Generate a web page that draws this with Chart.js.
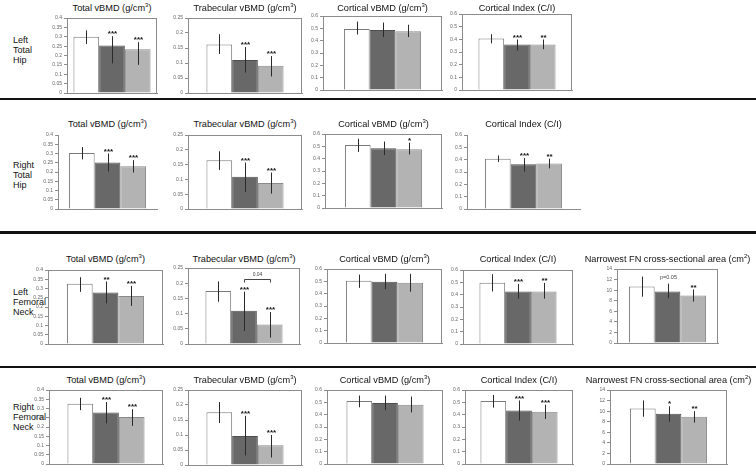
<!DOCTYPE html>
<html>
<head>
<meta charset="utf-8">
<script src="https://cdn.jsdelivr.net/npm/chart.js@4.4.0/dist/chart.umd.min.js"></script>
<style>
body{margin:0;background:#fff;width:756px;height:471px;position:relative;overflow:hidden;font-family:"Liberation Sans",Arial,sans-serif}
.ttl{position:absolute;width:260px;text-align:center;font-size:9.2px;line-height:11px;color:#111;white-space:nowrap}
.ttl sup{font-size:6px;line-height:0;vertical-align:4px}
.rowlab{position:absolute;left:13px;font-size:9px;line-height:10px;color:#111}
.sep{position:absolute;left:0;width:756px;background:#111}
canvas{position:absolute}
</style>
</head>
<body>
<div class="rowlab" style="top:35px">Left<br>Total<br>Hip</div>
<div class="rowlab" style="top:160px">Right<br>Total<br>Hip</div>
<div class="rowlab" style="top:287px">Left<br>Femoral<br>Neck</div>
<div class="rowlab" style="top:402px">Right<br>Femoral<br>Neck</div>
<div class="sep" style="top:98px;height:2px"></div>
<div class="sep" style="top:231px;height:3px"></div>
<div class="sep" style="top:366px;height:2px"></div>
<script>
// bar order in every panel: white, dark grey, light grey
const groups = ['Group 1', 'Group 2', 'Group 3'];

// Left total hip
const lthTotal = [0.300, 0.253, 0.233];
const lthTotalErr = [[0.334, 0.262], [0.303, 0.158], [0.271, 0.150]];
const lthTotalSig = ['', '***', '***'];
const lthTrab = [0.162, 0.110, 0.091];
const lthTrabErr = [[0.196, 0.130], [0.153, 0.068], [0.123, 0.055]];
const lthTrabSig = ['', '***', '***'];
const lthCort = [0.495, 0.487, 0.476];
const lthCortErr = [[0.555, 0.450], [0.547, 0.429], [0.529, 0.429]];
const lthCortSig = ['', '', ''];
const lthCI = [0.407, 0.360, 0.360];
const lthCIErr = [[0.440, 0.368], [0.399, 0.312], [0.399, 0.322]];
const lthCISig = ['', '***', '**'];

// Right total hip
const rthTotal = [0.303, 0.252, 0.231];
const rthTotalErr = [[0.335, 0.268], [0.300, 0.203], [0.264, 0.197]];
const rthTotalSig = ['', '***', '***'];
const rthTrab = [0.165, 0.109, 0.088];
const rthTrabErr = [[0.195, 0.132], [0.157, 0.057], [0.123, 0.052]];
const rthTrabSig = ['', '***', '***'];
const rthCort = [0.510, 0.484, 0.476];
const rthCortErr = [[0.561, 0.455], [0.539, 0.429], [0.529, 0.434]];
const rthCortSig = ['', '', '*'];
const rthCI = [0.408, 0.363, 0.368];
const rthCIErr = [[0.434, 0.382], [0.413, 0.303], [0.408, 0.329]];
const rthCISig = ['', '***', '**'];

// Left femoral neck
const lfnTotal = [0.326, 0.278, 0.259];
const lfnTotalErr = [[0.361, 0.282], [0.338, 0.220], [0.314, 0.206]];
const lfnTotalSig = ['', '**', '***'];
const lfnTrab = [0.174, 0.109, 0.064];
const lfnTrabErr = [[0.206, 0.139], [0.172, 0.043], [0.105, 0.021]];
const lfnTrabSig = ['', '***', '***'];
const lfnTrabBracket = {from: 1, to: 2, value: 0.213, label: '0.04'};
const lfnCort = [0.505, 0.497, 0.489];
const lfnCortErr = [[0.555, 0.447], [0.561, 0.437], [0.561, 0.416]];
const lfnCortSig = ['', '', ''];
const lfnCI = [0.497, 0.426, 0.426];
const lfnCIErr = [[0.566, 0.426], [0.487, 0.368], [0.495, 0.368]];
const lfnCISig = ['', '***', '**'];
const lfnArea = [10.67, 9.75, 9.00];
const lfnAreaErr = [[12.58, 8.76], [11.23, 8.45], [10.12, 7.83]];
const lfnAreaSig = ['', 'p=0.05', '**'];

// Right femoral neck
const rfnTotal = [0.326, 0.278, 0.254];
const rfnTotalErr = [[0.358, 0.291], [0.335, 0.220], [0.296, 0.206]];
const rfnTotalSig = ['', '***', '***'];
const rfnTrab = [0.176, 0.097, 0.066];
const rfnTrabErr = [[0.210, 0.140], [0.164, 0.032], [0.100, 0.025]];
const rfnTrabSig = ['', '***', '***'];
const rfnCort = [0.510, 0.495, 0.480];
const rfnCortErr = [[0.555, 0.460], [0.555, 0.436], [0.547, 0.418]];
const rfnCortSig = ['', '', ''];
const rfnCI = [0.510, 0.434, 0.423];
const rfnCIErr = [[0.560, 0.457], [0.515, 0.352], [0.481, 0.365]];
const rfnCISig = ['', '***', '***'];
const rfnArea = [10.49, 9.50, 8.95];
const rfnAreaErr = [[12.03, 8.94], [10.92, 8.02], [10.00, 7.83]];
const rfnAreaSig = ['', '*', '**'];

const tTotal = 'Total vBMD (g/cm<sup>3</sup>)';
const tTrab = 'Trabecular vBMD (g/cm<sup>3</sup>)';
const tCort = 'Cortical vBMD (g/cm<sup>3</sup>)';
const tCI = 'Cortical Index (C/I)';
const tArea = 'Narrowest FN cross-sectional area (cm<sup>2</sup>)';

const titleY = [8.5, 124.5, 259, 380];

const panels = [
  {row: 0, title: tTotal, mean: lthTotal, err: lthTotalErr, sig: lthTotalSig, max: 0.4, step: 0.05, L: 67, T: 17, R: 157, B: 94, box: true},
  {row: 0, title: tTrab, mean: lthTrab, err: lthTrabErr, sig: lthTrabSig, max: 0.25, step: 0.05, L: 188, T: 17, R: 302, B: 94, box: true},
  {row: 0, title: tCort, mean: lthCort, err: lthCortErr, sig: lthCortSig, max: 0.6, step: 0.1, L: 323, T: 15, R: 442, B: 91, box: true},
  {row: 0, title: tCI, mean: lthCI, err: lthCIErr, sig: lthCISig, max: 0.6, step: 0.1, L: 462, T: 13, R: 572, B: 91, box: true},

  {row: 1, title: tTotal, mean: rthTotal, err: rthTotalErr, sig: rthTotalSig, max: 0.4, step: 0.05, L: 58, T: 134, R: 157, B: 210, box: false},
  {row: 1, title: tTrab, mean: rthTrab, err: rthTrabErr, sig: rthTrabSig, max: 0.25, step: 0.05, L: 188, T: 134, R: 302, B: 210, box: true},
  {row: 1, title: tCort, mean: rthCort, err: rthCortErr, sig: rthCortSig, max: 0.6, step: 0.1, L: 325, T: 133, R: 442, B: 209, box: true},
  {row: 1, title: tCI, mean: rthCI, err: rthCIErr, sig: rthCISig, max: 0.6, step: 0.1, L: 467, T: 134, R: 580, B: 210, box: false},

  {row: 2, title: tTotal, mean: lfnTotal, err: lfnTotalErr, sig: lfnTotalSig, max: 0.4, step: 0.05, L: 48, T: 269, R: 163, B: 345, box: true},
  {row: 2, title: tTrab, mean: lfnTrab, err: lfnTrabErr, sig: lfnTrabSig, max: 0.25, step: 0.05, L: 188, T: 267, R: 300, B: 345, box: true, bracket: lfnTrabBracket},
  {row: 2, title: tCort, mean: lfnCort, err: lfnCortErr, sig: lfnCortSig, max: 0.6, step: 0.1, L: 327, T: 268, R: 442, B: 344, box: true},
  {row: 2, title: tCI, mean: lfnCI, err: lfnCIErr, sig: lfnCISig, max: 0.6, step: 0.1, L: 463, T: 269, R: 573, B: 345, box: true},
  {row: 2, title: tArea, mean: lfnArea, err: lfnAreaErr, sig: lfnAreaSig, max: 14, step: 2, L: 617, T: 268, R: 718, B: 344, box: true},

  {row: 3, title: tTotal, mean: rfnTotal, err: rfnTotalErr, sig: rfnTotalSig, max: 0.4, step: 0.05, L: 49, T: 389, R: 163, B: 465, box: true},
  {row: 3, title: tTrab, mean: rfnTrab, err: rfnTrabErr, sig: rfnTrabSig, max: 0.25, step: 0.05, L: 188, T: 389, R: 302, B: 466, box: true},
  {row: 3, title: tCort, mean: rfnCort, err: rfnCortErr, sig: rfnCortSig, max: 0.6, step: 0.1, L: 327, T: 389, R: 443, B: 465, box: true},
  {row: 3, title: tCI, mean: rfnCI, err: rfnCIErr, sig: rfnCISig, max: 0.6, step: 0.1, L: 465, T: 389, R: 573, B: 465, box: true},
  {row: 3, title: tArea, mean: rfnArea, err: rfnAreaErr, sig: rfnAreaSig, max: 14, step: 2, L: 610, T: 389, R: 727, B: 465, box: true}
];

const fills = ['#ffffff', '#686868', '#b3b3b3'];
const edges = ['#7a7a7a', '#4f4f4f', '#8a8a8a'];
const YW = 22;   // fixed y axis width
const BARW = 25.7;

// frame, error bars, stars and the bracket
const marks = {
  id: 'marks',
  afterDatasetsDraw(chart, args, o) {
    const ctx = chart.ctx, a = chart.chartArea, y = chart.scales.y;
    ctx.save();
    if (o.box) {
      ctx.strokeStyle = '#8c8c8c';
      ctx.lineWidth = 1;
      ctx.strokeRect(a.left + 0.5, a.top + 0.5, a.right - a.left - 1, a.bottom - a.top);
    }
    const xs = [];
    chart.data.datasets.forEach((ds, i) => {
      const x = Math.round(chart.getDatasetMeta(i).data[0].x) + 0.5;
      xs.push(x);
      const yHi = y.getPixelForValue(o.err[i][0]);
      const yLo = y.getPixelForValue(o.err[i][1]);
      ctx.strokeStyle = '#2a2a2a';
      ctx.lineWidth = 1;
      ctx.beginPath();
      ctx.moveTo(x, yHi);
      ctx.lineTo(x, yLo);
      ctx.stroke();
      const s = o.sig[i];
      if (s) {
        ctx.fillStyle = '#111';
        ctx.textAlign = 'center';
        if (s.indexOf('*') === 0) {
          ctx.font = 'bold 8px "Liberation Sans", Arial';
          ctx.textBaseline = 'middle';
          ctx.fillText(s, x, yHi - 2);
        } else {
          ctx.font = '5.5px "Liberation Sans", Arial';
          ctx.fillStyle = '#444';
          ctx.textBaseline = 'bottom';
          ctx.fillText(s, x, yHi - 3);
        }
      }
    });
    if (o.bracket) {
      const b = o.bracket;
      const yb = Math.round(y.getPixelForValue(b.value)) + 0.5;
      ctx.strokeStyle = '#444';
      ctx.beginPath();
      ctx.moveTo(xs[b.from], yb + 3);
      ctx.lineTo(xs[b.from], yb);
      ctx.lineTo(xs[b.to], yb);
      ctx.lineTo(xs[b.to], yb + 3);
      ctx.stroke();
      ctx.fillStyle = '#444';
      ctx.font = '5px "Liberation Sans", Arial';
      ctx.textAlign = 'center';
      ctx.textBaseline = 'bottom';
      ctx.fillText(b.label, (xs[b.from] + xs[b.to]) / 2, yb - 2);
    }
    ctx.restore();
  }
};

panels.forEach(p => {
  const t = document.createElement('div');
  t.className = 'ttl';
  t.innerHTML = p.title;
  t.style.left = ((p.L + p.R) / 2 - 130) + 'px';
  t.style.top = (titleY[p.row] - 5.5) + 'px';
  document.body.appendChild(t);

  const cv = document.createElement('canvas');
  const w = p.R - p.L + YW + 1;
  const h = p.B - p.T + 8;
  cv.width = w; cv.height = h;
  cv.style.width = w + 'px'; cv.style.height = h + 'px';
  cv.style.left = (p.L - YW) + 'px';
  cv.style.top = (p.T - 4) + 'px';
  document.body.appendChild(cv);

  new Chart(cv, {
    type: 'bar',
    data: {
      labels: [''],
      datasets: groups.map((g, i) => ({
        label: g,
        data: [p.mean[i]],
        backgroundColor: fills[i],
        borderColor: edges[i],
        borderWidth: 1
      }))
    },
    options: {
      responsive: false,
      animation: false,
      devicePixelRatio: 1,
      layout: {padding: {top: 4, right: 1, bottom: 4, left: 0}},
      datasets: {bar: {barPercentage: 1, categoryPercentage: (3 * BARW) / (p.R - p.L)}},
      plugins: {
        legend: {display: false},
        tooltip: {enabled: false},
        marks: {box: p.box, err: p.err, sig: p.sig, bracket: p.bracket || null}
      },
      scales: {
        x: {
          ticks: {display: false},
          grid: {display: false},
          border: {color: '#8c8c8c'},
          afterFit: s => { s.height = 0; }
        },
        y: {
          min: 0,
          max: p.max,
          ticks: {
            stepSize: p.step,
            autoSkip: false,
            font: {size: 5, family: '"Liberation Sans", Arial'},
            color: '#666',
            padding: 2,
            callback: v => String(+v.toFixed(2))
          },
          grid: {drawOnChartArea: false, tickLength: 3, color: '#8c8c8c'},
          border: {color: '#8c8c8c'},
          afterFit: s => { s.width = YW; }
        }
      }
    },
    plugins: [marks]
  });
});
</script>
</body>
</html>
